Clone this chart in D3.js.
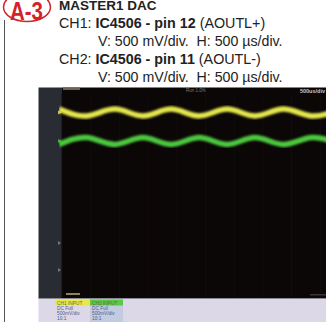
<!DOCTYPE html>
<html><head><meta charset="utf-8">
<script src="https://cdn.jsdelivr.net/npm/d3@7"></script>
<style>
html,body{margin:0;padding:0;background:#fff;}
svg{display:block;}
</style></head>
<body>
<svg id="chart" width="326" height="322"></svg>
<script>
// ---- data ----
const badge = "A-3";
const titleLine = "MASTER1 DAC";
const ch1Label = ["CH1: ", "IC4506 - pin 12", " (AOUTL+)"];
const ch2Label = ["CH2: ", "IC4506 - pin 11", " (AOUTL-)"];
const scaleLine = "V: 500 mV/div.  H: 500 \u00b5s/div.";
// sample times (µs) at crests/troughs
const times = [-50, 440, 925, 1410, 1900, 2390, 2875, 3360, 3850, 4340, 4830];
// CH1 (yellow) values, mV relative to its marker
const ch1Values = [60, -60, 60, -60, 60, -60, 60, -60, 60, -60, 60];
// CH2 (green) values, mV relative to its marker
const ch2Values = [-60, 60, -60, 60, -60, 60, -60, 60, -60, 60, -60];
const channelOffsetsDiv = [2.82, 1.82];   // marker positions (div above centre)
const voltsPerDiv = 500;                  // mV/div
const timeDomain = [0, 4600];             // µs shown
const voltDomain = [-1850, 1850];         // mV shown
const infoCH1 = ["CH1 INPUT", "DC Full", "500mV/div", "10:1"];
const infoCH2 = ["CH2 INPUT", "DC Full", "500mV/div", "10:1"];
const topRight = "500us/div";
const topMid = "Run  1.0%";

const svg = d3.select("#chart");

// ---- header ----
svg.append("line").attr("x1",4.5).attr("x2",4.5).attr("y1",20).attr("y2",322)
  .attr("stroke","#555").attr("stroke-width",1);
svg.append("ellipse").attr("cx",27).attr("cy",7).attr("rx",23.5).attr("ry",14.5)
  .attr("fill","#fff").attr("stroke","#d3222a").attr("stroke-width",1.5);
svg.append("text").attr("x",10).attr("y",19.5).text(badge)
  .attr("font-family","'Liberation Sans Narrow','Liberation Sans',Arial,sans-serif")
  .attr("font-size",25.5).attr("font-weight","bold").attr("fill","#d3222a")
  .attr("textLength",33).attr("lengthAdjust","spacingAndGlyphs");

const hf = "'Liberation Sans',Arial,Helvetica,sans-serif";
svg.append("text").attr("x",59).attr("y",10).text(titleLine)
  .attr("font-family",hf).attr("font-size",13.5).attr("font-weight","bold").attr("fill","#222");

function chLine(parts, y){
  const t = svg.append("text").attr("x",59).attr("y",y).attr("font-family",hf).attr("font-size",14.3).attr("fill","#222");
  t.append("tspan").text(parts[0]);
  t.append("tspan").attr("font-weight","bold").text(parts[1]);
  t.append("tspan").text(parts[2]);
}
chLine(ch1Label, 27.5);
svg.append("text").attr("x",98).attr("y",45.5).text(scaleLine)
  .style("white-space","pre").attr("font-family",hf).attr("font-size",14.2).attr("fill","#222");
chLine(ch2Label, 63.5);
svg.append("text").attr("x",98).attr("y",81.5).text(scaleLine)
  .style("white-space","pre").attr("font-family",hf).attr("font-size",14.2).attr("fill","#222");

// ---- scope screen ----
const sx0 = 62, sx1 = 326, sy0 = 87.5, sy1 = 298;
svg.append("rect").attr("x",38.5).attr("y",sy0).attr("width",sx0-38.5).attr("height",sy1-sy0).attr("fill","#292c33");
svg.append("rect").attr("x",sx0).attr("y",sy0).attr("width",sx1-sx0).attr("height",sy1-sy0).attr("fill","#0c0707");

const x = d3.scaleLinear().domain(timeDomain).range([sx0, sx1]);
const y = d3.scaleLinear().domain(voltDomain).range([sy1, sy0]);

// faint graticule
const gx = d3.range(0, timeDomain[1]+1, voltsPerDiv);
svg.append("g").selectAll("line").data(gx).join("line")
  .attr("x1",d=>x(d)).attr("x2",d=>x(d)).attr("y1",sy0+6).attr("y2",sy1)
  .attr("stroke","#130c0c").attr("stroke-width",1);

const defs = svg.append("defs");
defs.append("clipPath").attr("id","scr").append("rect")
  .attr("x",sx0-3).attr("y",sy0).attr("width",sx1-sx0+3).attr("height",sy1-sy0);
const f = defs.append("filter").attr("id","glow").attr("x","-5%").attr("y","-50%").attr("width","110%").attr("height","200%");
f.append("feGaussianBlur").attr("stdDeviation",0.8);

const series = [
  {vals: ch1Values, off: channelOffsetsDiv[0], color: "#e4e64c"},
  {vals: ch2Values, off: channelOffsetsDiv[1], color: "#4cc83e"}
];
const line = d3.line().curve(d3.curveNatural);
const tg = svg.append("g").attr("clip-path","url(#scr)");
series.forEach(s => {
  const pts = times.map((t,i)=>[x(t), y(s.off*voltsPerDiv + s.vals[i])]);
  tg.append("path").attr("d", line(pts)).attr("fill","none")
    .attr("stroke", s.color).attr("stroke-width",5.5).attr("filter","url(#glow)");
});

// channel markers
series.forEach(s => {
  const yy = y(s.off*voltsPerDiv);
  svg.append("path").attr("d", `M${sx0-4},${yy-2}L${sx0},${yy}L${sx0-4},${yy+2}Z`).attr("fill", s.color).attr("opacity",0.8);
});
[243, 270].forEach(yy => {
  svg.append("path").attr("d", `M${sx0-4},${yy-2}L${sx0-1},${yy}L${sx0-4},${yy+2}Z`).attr("fill","#777");
});

// top labels on screen
svg.append("rect").attr("x",63).attr("y",sy0).attr("width",17).attr("height",2.5).attr("fill","#6b6250");
svg.append("text").attr("x",196).attr("y",92).attr("text-anchor","middle").text(topMid)
  .attr("font-family",hf).attr("font-size",4.5).attr("fill","#7a7a7a");
svg.append("text").attr("x",325).attr("y",93).attr("text-anchor","end").text(topRight)
  .attr("font-family",hf).attr("font-size",5.5).attr("font-weight","bold").attr("fill","#c8c8c8");
svg.append("rect").attr("x",66).attr("y",sy1-5).attr("width",14).attr("height",2).attr("fill","#8d8258");
svg.append("rect").attr("x",310).attr("y",sy1-4).attr("width",16).attr("height",1.5).attr("fill","#3a3434");

// bottom info panel
svg.append("rect").attr("x",38.5).attr("y",sy1).attr("width",326-38.5).attr("height",322-sy1).attr("fill","#dcd8e7");
svg.append("line").attr("x1",38.5).attr("x2",326).attr("y1",sy1+0.5).attr("y2",sy1+0.5).attr("stroke","#8a8a92");
svg.append("rect").attr("x",90).attr("y",sy1+1).attr("width",33).attr("height",322-sy1-1).attr("fill","#c3cbe0");
const cols = [{x:55, w:35, info:infoCH1, head:"#e6e84c"}, {x:90, w:33, info:infoCH2, head:"#5cc84a"}];
cols.forEach(c => {
  svg.append("rect").attr("x",c.x).attr("y",sy1+1.5).attr("width",c.w).attr("height",6).attr("fill",c.head);
  c.info.forEach((t,i) => {
    svg.append("text").attr("x",c.x+2).attr("y",sy1+6.5+i*5.3).text(t)
      .attr("font-family",hf).attr("font-size",4.8).attr("fill", i===0 ? "#6a6a40" : "#4a5a8a");
  });
});
</script>
</body></html>
